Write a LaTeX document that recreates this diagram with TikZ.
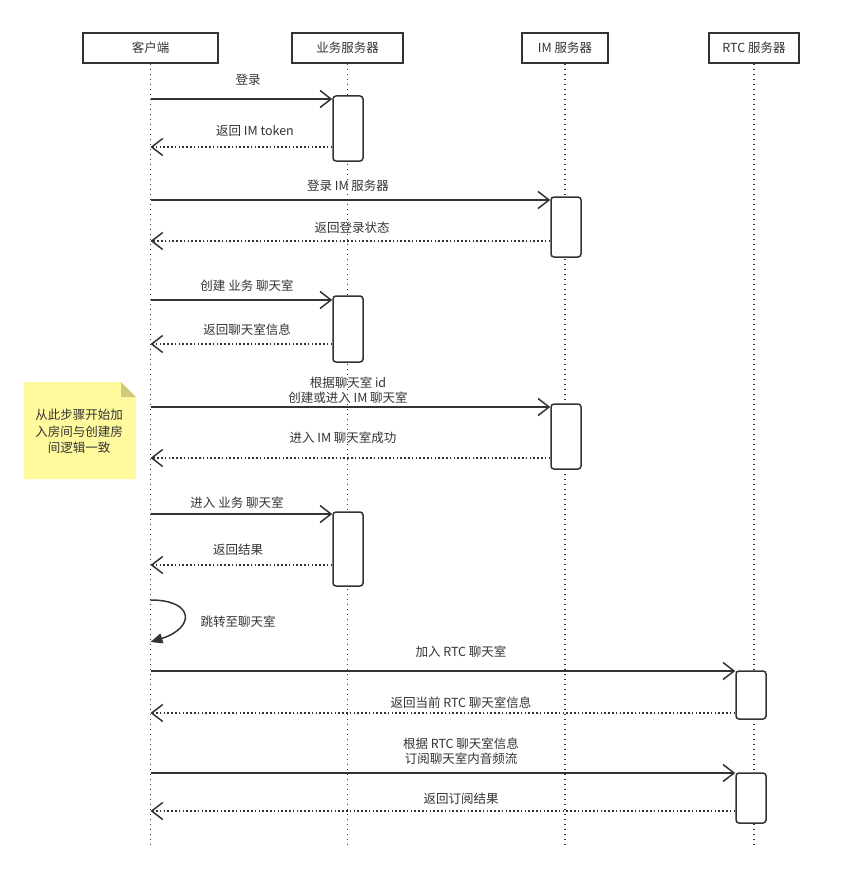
\documentclass[tikz,border=0pt]{standalone}
\usepackage{fontspec}
\setmainfont{Noto Sans CJK SC}
\usetikzlibrary{arrows.meta}
\definecolor{ln}{HTML}{333333}
\definecolor{notefill}{HTML}{FFFA9E}
\definecolor{notefold}{HTML}{CFCB7A}
\tikzset{
  lblfont/.style={font=\fontsize{12.5}{15}\selectfont, text=ln},
  participant/.style={draw=ln, line width=1.5pt, fill=white, minimum height=30pt, inner sep=0pt, lblfont},
  act/.style={draw=ln, fill=white, line width=1.5pt, rounded corners=3pt, minimum width=30pt, inner sep=0pt},
  life/.style={ln, line width=1.6pt, dash pattern=on 1.6pt off 3.4pt},
  msg/.style={ln, line width=1.5pt, -{Straight Barb[length=11pt,width=17pt,line width=1.5pt]}},
  ret/.style={msg, dash pattern=on 1.6pt off 2.2pt},
  lbl/.style={lblfont, align=center, inner sep=0pt},
}
\begin{document}
\begin{tikzpicture}[x=1pt,y=-1pt]
\useasboundingbox (0,0) rectangle (860,872);
% participants
\node[participant, minimum width=135pt] (c) at (150.5,48) {客户端};
\node[participant, minimum width=111pt] (b) at (347.5,48) {业务服务器};
\node[participant, minimum width=86pt] (i) at (565,48) {IM 服务器};
\node[participant, minimum width=90pt] (r) at (754,48) {RTC 服务器};
\coordinate (end) at (0,848);
% lifelines
\draw[life] (c.south) -- (c.south |- end);
\draw[life] (b.south) -- (b.south |- end);
\draw[life] (i.south) -- (i.south |- end);
\draw[life] (r.south) -- (r.south |- end);
% activations
\node[act, minimum height=65pt] (a1) at (348,128.5) {};
\node[act, minimum height=60pt] (a2) at (566,227) {};
\node[act, minimum height=66pt] (a3) at (348,329) {};
\node[act, minimum height=65pt] (a4) at (566,436.5) {};
\node[act, minimum height=74pt] (a5) at (348,549) {};
\node[act, minimum height=48pt] (a6) at (751,695) {};
\node[act, minimum height=50pt] (a7) at (751,798) {};
% message y positions
\coordinate (m1) at (0,99);
\coordinate (m2) at (0,147);
\coordinate (m3) at (0,200);
\coordinate (m4) at (0,241);
\coordinate (m5) at (0,300);
\coordinate (m6) at (0,344);
\coordinate (m7) at (0,407);
\coordinate (m8) at (0,458);
\coordinate (m9) at (0,514);
\coordinate (m10) at (0,565);
\coordinate (m11) at (0,671);
\coordinate (m12) at (0,713);
\coordinate (m13) at (0,773);
\coordinate (m14) at (0,811);
% messages
\draw[msg] (c |- m1) -- (a1.west |- m1);
\node[lbl] (l1) at (248,80) {登录};
\draw[ret] (a1.west |- m2) -- (c |- m2);
\node[lbl] (l2) at (255,131) {返回 IM token};
\draw[msg] (c |- m3) -- (a2.west |- m3);
\node[lbl] (l3) at (348,186) {登录 IM 服务器};
\draw[ret] (a2.west |- m4) -- (c |- m4);
\node[lbl] (l4) at (352,228) {返回登录状态};
\draw[msg] (c |- m5) -- (a3.west |- m5);
\node[lbl] (l5) at (247,286) {创建 业务 聊天室};
\draw[ret] (a3.west |- m6) -- (c |- m6);
\node[lbl] (l6) at (247,330) {返回聊天室信息};
\draw[msg] (c |- m7) -- (a4.west |- m7);
\node[lbl] (l7) at (348,390.5) {根据聊天室 id\\创建或进入 IM 聊天室};
\draw[ret] (a4.west |- m8) -- (c |- m8);
\node[lbl] (l8) at (343,438) {进入 IM 聊天室成功};
\draw[msg] (c |- m9) -- (a5.west |- m9);
\node[lbl] (l9) at (237,503) {进入 业务 聊天室};
\draw[ret] (a5.west |- m10) -- (c |- m10);
\node[lbl] (l10) at (238,550) {返回结果};
% self loop
\coordinate (s1) at (0,600);
\coordinate (s2) at (0,642);
\draw[ln, line width=1.5pt, -{Triangle[length=12pt,width=10pt]}] (c |- s1) .. controls (195,600) and (195,628) .. (c |- s2);
\node[lbl] (l11) at (238,622) {跳转至聊天室};
\draw[msg] (c |- m11) -- (a6.west |- m11);
\node[lbl] (l12) at (461,652) {加入 RTC 聊天室};
\draw[ret] (a6.west |- m12) -- (c |- m12);
\node[lbl] (l13) at (461,703) {返回当前 RTC 聊天室信息};
\draw[msg] (c |- m13) -- (a7.west |- m13);
\node[lbl] (l14) at (461,751.5) {根据 RTC 聊天室信息\\订阅聊天室内音频流};
\draw[ret] (a7.west |- m14) -- (c |- m14);
\node[lbl] (l15) at (461,799) {返回订阅结果};
% note
\fill[notefill] (24,382) -- (121,382) -- (136,397) -- (136,479) -- (24,479) -- cycle;
\fill[notefold] (121,382) -- (121,397) -- (136,397) -- cycle;
\node[lbl, align=center, font=\fontsize{12.5}{16.5}\selectfont] (note) at (79,431.5) {从此步骤开始加\\入房间与创建房\\间逻辑一致};
\end{tikzpicture}
\end{document}
